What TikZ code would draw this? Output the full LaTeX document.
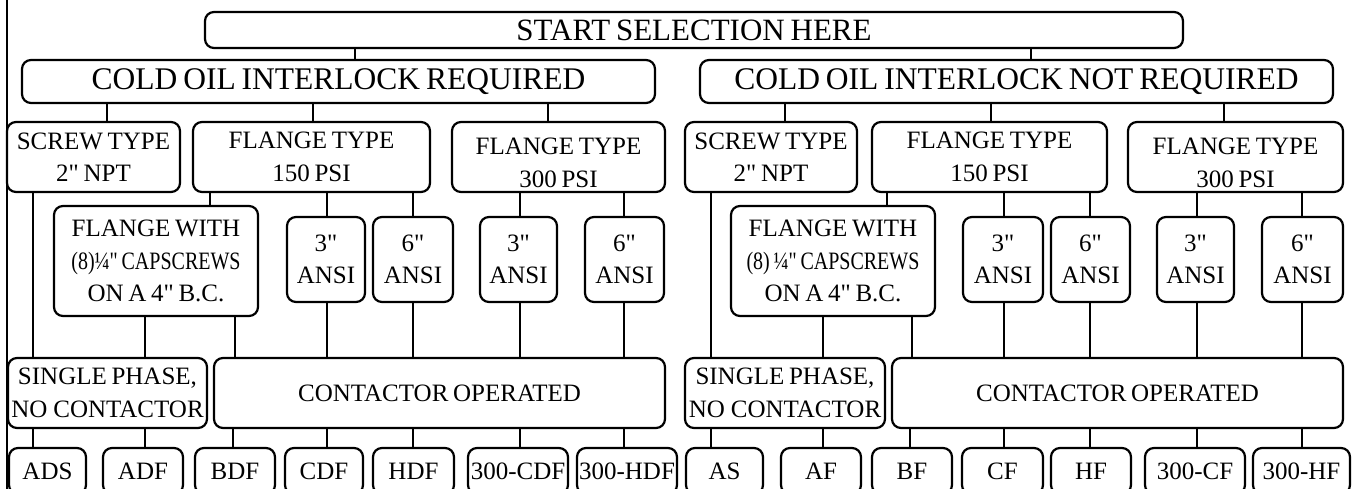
\documentclass[tikz,border=0pt]{standalone}
\usepackage{fontspec}
\setmainfont{Liberation Serif}[Ligatures=TeXOff, WordSpace=0.75]
\usepackage{graphicx}
\tikzset{
  box/.style={draw, rounded corners=9pt, line width=2.2pt, inner sep=0pt, align=center,
    font=\fontsize{25}{32.5}\selectfont},
  txt/.style={inner sep=0pt, align=center, font=\fontsize{25}{32.5}\selectfont},
  conn/.style={line width=2.2pt},
  lvthree/.style={box, minimum height=70pt},
  ansi/.style={box, minimum height=85pt},
  lvfive/.style={box, minimum height=70pt},
  bot/.style={box, minimum height=46pt},
}
\newcommand\myconn[3]{\coordinate (cxx) at (#3,0); \draw[conn] (#1.south -| cxx) -- (#2.north -| cxx);}
\begin{document}
\begin{tikzpicture}[x=1pt,y=-1pt]
\useasboundingbox (0,0) rectangle (1352,489);
\clip (0,0) rectangle (1352,489);
\fill[white] (0,0) rectangle (1352,489);
% frame line
\draw[conn] (7,-5) -- (7,495);
% level 1 and 2
\node[box, font=\fontsize{31}{36}\selectfont, minimum width=978pt, minimum height=36pt] (start) at (694,30) {START SELECTION HERE};
\node[box, font=\fontsize{31.5}{36}\selectfont, minimum width=633pt, minimum height=43pt] (cold1) at (338.5,81.5) {COLD OIL INTERLOCK REQUIRED};
\node[box, font=\fontsize{31.5}{36}\selectfont, minimum width=633pt, minimum height=43pt] (cold2) at (1016.5,81.5) {COLD OIL INTERLOCK NOT REQUIRED};
% level 3
\node[lvthree, minimum width=173pt] (scr1) at (93.5,157) {SCREW TYPE\\2" NPT};
\node[lvthree, minimum width=237pt] (f150a) at (311.5,157) {FLANGE TYPE\\150 PSI};
\node[lvthree, minimum width=213pt] (f300a) at (558.5,157) {};
\node[txt] (f300at) at ([yshift=-6pt]f300a.center) {FLANGE TYPE\\300 PSI};
\node[lvthree, minimum width=172pt] (scr2) at (771,157) {SCREW TYPE\\2" NPT};
\node[lvthree, minimum width=235pt] (f150b) at (989.5,157) {FLANGE TYPE\\150 PSI};
\node[lvthree, minimum width=215pt] (f300b) at (1235.5,157) {};
\node[txt] (f300bt) at ([yshift=-6pt]f300b.center) {FLANGE TYPE\\300 PSI};
% level 4
\node[box, minimum width=204pt, minimum height=110pt] (fw1) at (156,261) {FLANGE WITH\\\scalebox{0.8}[1]{(8)¼" CAPSCREWS}\\ON A 4" B.C.};
\node[box, minimum width=204pt, minimum height=110pt] (fw2) at (833,261) {FLANGE WITH\\\scalebox{0.8}[1]{(8) ¼" CAPSCREWS}\\ON A 4" B.C.};
\node[ansi, minimum width=78pt] (a3a) at (326,259.5) {3"\\ANSI};
\node[ansi, minimum width=80pt] (a6a) at (413,259.5) {6"\\ANSI};
\node[ansi, minimum width=77pt] (a3b) at (518.5,259.5) {3"\\ANSI};
\node[ansi, minimum width=79pt] (a6b) at (624.5,259.5) {6"\\ANSI};
\node[ansi, minimum width=80pt] (a3c) at (1003,259.5) {3"\\ANSI};
\node[ansi, minimum width=79pt] (a6c) at (1090.5,259.5) {6"\\ANSI};
\node[ansi, minimum width=77pt] (a3d) at (1195.5,259.5) {3"\\ANSI};
\node[ansi, minimum width=81pt] (a6d) at (1302.5,259.5) {6"\\ANSI};
% level 5
\node[lvfive, minimum width=199pt] (sp1) at (107.5,393) {SINGLE PHASE,\\NO\hspace{6pt}CONTACTOR};
\node[lvfive, minimum width=451pt] (co1) at (439.5,393) {CONTACTOR OPERATED};
\node[lvfive, minimum width=200pt] (sp2) at (785,393) {SINGLE PHASE,\\NO\hspace{6pt}CONTACTOR};
\node[lvfive, minimum width=451pt] (co2) at (1117.5,393) {CONTACTOR OPERATED};
% level 6
\node[bot, minimum width=77pt] (ads) at (47.5,471) {ADS};
\node[bot, minimum width=80pt] (adf) at (143,471) {ADF};
\node[bot, minimum width=80pt] (bdf) at (235,471) {BDF};
\node[bot, minimum width=78pt] (cdf) at (324,471) {CDF};
\node[bot, minimum width=81pt] (hdf) at (413.5,471) {HDF};
\node[bot, minimum width=100pt] (cdf3) at (518,471) {300-CDF};
\node[bot, minimum width=100pt] (hdf3) at (627,471) {300-HDF};
\node[bot, minimum width=77pt] (nas) at (724.5,471) {AS};
\node[bot, minimum width=80pt] (naf) at (821,471) {AF};
\node[bot, minimum width=80pt] (nbf) at (912,471) {BF};
\node[bot, minimum width=81pt] (ncf) at (1002.5,471) {CF};
\node[bot, minimum width=80pt] (nhf) at (1091,471) {HF};
\node[bot, minimum width=100pt] (cf3) at (1195,471) {300-CF};
\node[bot, minimum width=97pt] (hf3) at (1301.5,471) {300-HF};
% connectors
\myconn{start}{cold1}{355}
\myconn{start}{cold2}{1031}
\myconn{cold1}{scr1}{107}
\myconn{cold1}{f150a}{313}
\myconn{cold1}{f300a}{548}
\myconn{cold2}{scr2}{785}
\myconn{cold2}{f150b}{991}
\myconn{cold2}{f300b}{1224}
\myconn{f150a}{fw1}{210}
\myconn{f150a}{a3a}{327}
\myconn{f150a}{a6a}{413}
\myconn{f300a}{a3b}{520}
\myconn{f300a}{a6b}{624}
\myconn{f150b}{fw2}{887}
\myconn{f150b}{a3c}{1004}
\myconn{f150b}{a6c}{1090}
\myconn{f300b}{a3d}{1197}
\myconn{f300b}{a6d}{1302}
\myconn{scr1}{sp1}{33}
\myconn{fw1}{sp1}{145}
\myconn{fw1}{co1}{235}
\myconn{a3a}{co1}{327}
\myconn{a6a}{co1}{413}
\myconn{a3b}{co1}{520}
\myconn{a6b}{co1}{624}
\myconn{scr2}{sp2}{711}
\myconn{fw2}{sp2}{823}
\myconn{fw2}{co2}{912}
\myconn{a3c}{co2}{1004}
\myconn{a6c}{co2}{1090}
\myconn{a3d}{co2}{1197}
\myconn{a6d}{co2}{1302}
\myconn{sp1}{ads}{33}
\myconn{sp1}{adf}{145}
\myconn{co1}{bdf}{233}
\myconn{co1}{cdf}{327}
\myconn{co1}{hdf}{413}
\myconn{co1}{cdf3}{520}
\myconn{co1}{hdf3}{624}
\myconn{sp2}{nas}{711}
\myconn{sp2}{naf}{823}
\myconn{co2}{nbf}{910}
\myconn{co2}{ncf}{1004}
\myconn{co2}{nhf}{1090}
\myconn{co2}{cf3}{1197}
\myconn{co2}{hf3}{1302}
\end{tikzpicture}
\end{document}
